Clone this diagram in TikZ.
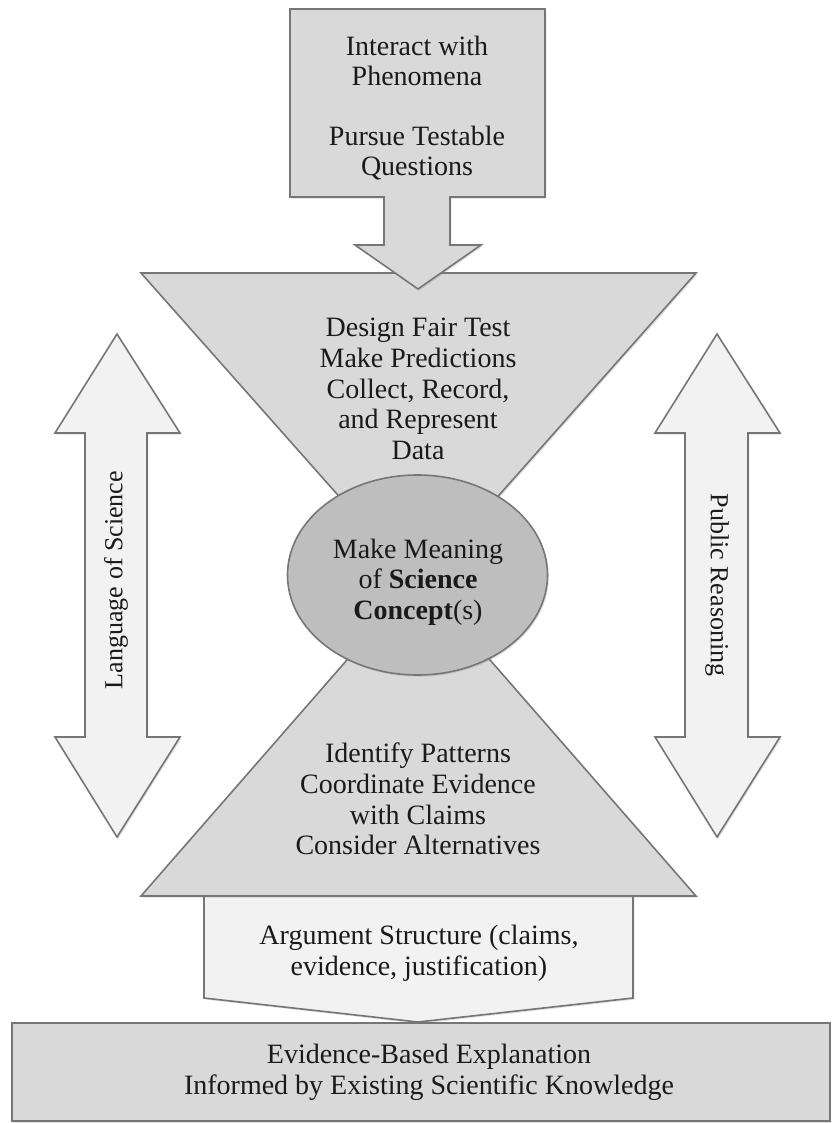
\documentclass[tikz,border=0pt]{standalone}
\usepackage{fontspec}
\setmainfont{Liberation Serif}
\usetikzlibrary{shapes.geometric,shadows}
\definecolor{shapegray}{HTML}{D9D9D9}
\definecolor{darkfill}{HTML}{BEBEBE}
\definecolor{palefill}{HTML}{F2F2F2}
\definecolor{edgegray}{HTML}{767676}
\definecolor{txt}{HTML}{1A1A1A}
\tikzset{
  shp/.style={draw=edgegray, line width=1.2pt, line join=miter},
  sh/.style={drop shadow={opacity=0.25, shadow xshift=1pt, shadow yshift=-1.2pt}},
  lbl/.style={font=\fontsize{21}{23}\selectfont, text=txt, align=center, inner sep=0pt},
  sidelbl/.style={font=\fontsize{19.5}{22}\selectfont, text=txt, inner sep=0pt},
}
\begin{document}
\begin{tikzpicture}[x=0.75pt, y=-0.75pt]
\useasboundingbox[fill=white] (0,0) rectangle (833,1123);

% side double arrows
\path[shp, sh, fill=palefill] (117,334) -- (180,433) -- (147,433) -- (147,737) -- (180,737)
  -- (117,837) -- (55,737) -- (85,737) -- (85,433) -- (55,433) -- cycle;
\path[shp, sh, fill=palefill] (717,334) -- (780,433) -- (748,433) -- (748,737) -- (780,737)
  -- (717,837) -- (655,737) -- (685,737) -- (685,433) -- (655,433) -- cycle;
\node[sidelbl, rotate=90] (lang) at (116,580) {Language of Science};
\node[sidelbl, rotate=-90] (pub) at (717,585) {Public Reasoning};

% argument pentagon
\path[shp, sh, fill=palefill] (204,893) -- (633,893) -- (633,998) -- (418,1022) -- (204,998) -- cycle;
\node[lbl] (arg) at (419,953) {Argument Structure (claims,\\evidence, justification)};

% bottom box
\path[shp, sh, fill=shapegray] (12,1023) rectangle (830,1121);
\node[lbl] (expl) at (429,1072) {Evidence-Based Explanation\\Informed by Existing Scientific Knowledge};

% lower triangle
\path[shp, sh, fill=shapegray] (141,896) -- (696,896) -- (418.5,578) -- cycle;
\node[lbl] (patterns) at (418,799) {Identify Patterns\\Coordinate Evidence\\with Claims\\Consider Alternatives};

% upper inverted triangle
\path[shp, sh, fill=shapegray] (141,273) -- (696,273) -- (418.5,586) -- cycle;
\node[lbl] (design) at (418,389) {Design Fair Test\\Make Predictions\\Collect, Record,\\and Represent\\Data};

% top box with down arrow
\path[shp, sh, fill=shapegray] (290,9) -- (545,9) -- (545,197) -- (450,197) -- (450,245) -- (481,245)
  -- (418,289) -- (355,245) -- (384,245) -- (384,197) -- (290,197) -- cycle;
\node[lbl] (interact) at (417,61) {Interact with\\Phenomena};
\node[lbl] (pursue) at (417,153) {Pursue Testable\\Questions};

% central ellipse
\node[shp, sh, ellipse, fill=darkfill, minimum width=195pt, minimum height=150pt, inner sep=0pt] (concept) at (417.5,575) {};
\node[lbl] (meaning) at (418,582) {Make Meaning\\of \textbf{Science}\\\textbf{Concept}(s)};
\end{tikzpicture}
\end{document}
